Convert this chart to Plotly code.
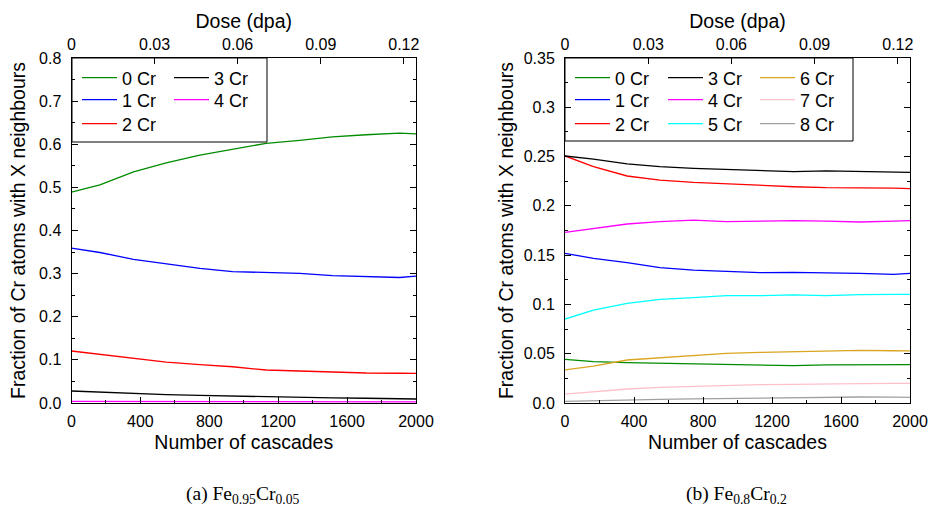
import plotly.graph_objects as go

# ---------------- data ----------------
CASCADES = [0, 165, 360, 550, 745, 935, 1130, 1325, 1515, 1710, 1905, 2000]
DOSE_MAX = 0.1244  # dpa at 2000 cascades

# (a) Fe0.95Cr0.05
A_LABELS = ["0 Cr", "1 Cr", "2 Cr", "3 Cr", "4 Cr"]
A_0CR = [0.489, 0.506, 0.536, 0.557, 0.575, 0.588, 0.602, 0.609, 0.617, 0.622, 0.626, 0.624]
A_1CR = [0.359, 0.349, 0.333, 0.322, 0.312, 0.3045, 0.302, 0.3007, 0.2953, 0.294, 0.291, 0.294]
A_2CR = [0.1206, 0.113, 0.103, 0.095, 0.089, 0.084, 0.0765, 0.0742, 0.0711, 0.0696, 0.069, 0.0688]
A_3CR = [0.0278, 0.025, 0.022, 0.0195, 0.0175, 0.0158, 0.0138, 0.0127, 0.0118, 0.011, 0.0098, 0.0093]
A_4CR = [0.004, 0.0038, 0.0035, 0.0033, 0.003, 0.003, 0.0028, 0.0027, 0.0026, 0.0025, 0.0024, 0.0024]

# (b) Fe0.8Cr0.2
B_LABELS = ["0 Cr", "1 Cr", "2 Cr", "3 Cr", "4 Cr", "5 Cr", "6 Cr", "7 Cr", "8 Cr"]
B_0CR = [0.0443, 0.0419, 0.0409, 0.0402, 0.0396, 0.0392, 0.0382, 0.0379, 0.0386, 0.0386, 0.0388, 0.0389]
B_1CR = [0.1518, 0.1468, 0.1424, 0.1373, 0.1349, 0.1339, 0.1322, 0.1325, 0.1322, 0.1315, 0.1305, 0.1315]
B_2CR = [0.2506, 0.2398, 0.2303, 0.2262, 0.2239, 0.2222, 0.2212, 0.2194, 0.2184, 0.2184, 0.218, 0.2174]
B_3CR = [0.2506, 0.2475, 0.2425, 0.2398, 0.2381, 0.2371, 0.2354, 0.2347, 0.2354, 0.2347, 0.234, 0.234]
B_4CR = [0.1731, 0.1772, 0.1816, 0.184, 0.1855, 0.184, 0.1845, 0.185, 0.1845, 0.1836, 0.1845, 0.185]
B_5CR = [0.0852, 0.0943, 0.1011, 0.1052, 0.1069, 0.1089, 0.1089, 0.1096, 0.1089, 0.1099, 0.1101, 0.1103]
B_6CR = [0.0335, 0.0375, 0.0436, 0.046, 0.0487, 0.0504, 0.0514, 0.0521, 0.0531, 0.0534, 0.053, 0.0528]
B_7CR = [0.0091, 0.0115, 0.0142, 0.0159, 0.0169, 0.0179, 0.0186, 0.0189, 0.0196, 0.0196, 0.0199, 0.0200]
B_8CR = [0.0017, 0.0025, 0.0032, 0.0037, 0.0042, 0.0047, 0.0051, 0.0054, 0.0057, 0.0061, 0.0059, 0.0058]

DOSE_TICKS = [0, 0.03, 0.06, 0.09, 0.12]
DOSE_TICKTEXT = ["0", "0.03", "0.06", "0.09", "0.12"]
B_YTICKS = [0, 0.05, 0.1, 0.15, 0.2, 0.25, 0.3, 0.35]
B_YTICKTEXT = ["0.0", "0.05", "0.1", "0.15", "0.2", "0.25", "0.3", "0.35"]

COLORS = ["#008c00", "#0000ff", "#ff0000", "#000000", "#ff00ff",
          "#00ffff", "#daa520", "#ffc0cb", "#a0a0a0"]

# ---------------- figure ----------------
W, H = 928, 506
FONT = "Liberation Sans, Arial, sans-serif"
TICK_SIZE = 16
TITLE_SIZE = 19.5
LEG_SIZE = 18

# legend layout (pixel positions of legend columns / rows)
A_COLS = [77, 169]
B_COLS = [570, 663, 755]
ROWS = [78, 100, 124]
LEG_OFFSET = 18.5  # distance from legend top to first item centre (approx.)

fig = go.Figure()
leg_positions = {}
leg_count = 0

def next_legend(px_x, px_row):
    global leg_count
    leg_count += 1
    name = "legend" if leg_count == 1 else f"legend{leg_count}"
    leg_positions[name] = (px_x, px_row)
    return name

a_series = [A_0CR, A_1CR, A_2CR, A_3CR, A_4CR]
for i, ys in enumerate(a_series):
    lg = next_legend(A_COLS[i // 3], ROWS[i % 3])
    fig.add_trace(go.Scatter(x=CASCADES, y=ys, mode="lines", name=A_LABELS[i],
                             line=dict(color=COLORS[i], width=1.3), showlegend=True,
                             xaxis="x", yaxis="y", legend=lg))

b_series = [B_0CR, B_1CR, B_2CR, B_3CR, B_4CR, B_5CR, B_6CR, B_7CR, B_8CR]
for i, ys in enumerate(b_series):
    lg = next_legend(B_COLS[i // 3], ROWS[i % 3])
    fig.add_trace(go.Scatter(x=CASCADES, y=ys, mode="lines", name=B_LABELS[i],
                             line=dict(color=COLORS[i], width=1.3), showlegend=True,
                             xaxis="x2", yaxis="y2", legend=lg))

# empty traces to bind the top dose axes
fig.add_trace(go.Scatter(x=[], y=[], xaxis="x3", yaxis="y", showlegend=False))
fig.add_trace(go.Scatter(x=[], y=[], xaxis="x4", yaxis="y2", showlegend=False))

LX = [71.5 / W, 416 / W]
RX = [565 / W, 910 / W]
YD = [1 - 403 / H, 1 - 58 / H]

tickfont = dict(family=FONT, size=TICK_SIZE, color="black")
titlefont = dict(family=FONT, size=TITLE_SIZE, color="black")

def xbottom(domain, anchor):
    return dict(domain=domain, anchor=anchor, range=[0, 2000], dtick=400, tick0=0,
                ticks="inside", ticklen=6, tickcolor="black", tickwidth=1,
                minor=dict(dtick=200, ticks="inside", ticklen=3, tickcolor="black"),
                showline=True, linecolor="black", linewidth=1, mirror=True,
                showgrid=False, zeroline=False, tickfont=tickfont, automargin=False,
                ticklabelstandoff=4,
                title=dict(text="Number of cascades", font=titlefont, standoff=6))

def xtop(domain, overlay, anchor):
    return dict(domain=domain, overlaying=overlay, anchor=anchor, side="top",
                range=[0, DOSE_MAX], tickvals=DOSE_TICKS, ticktext=DOSE_TICKTEXT,
                ticks="inside", ticklen=6, tickcolor="black", automargin=False,
                showline=False, showgrid=False, zeroline=False, tickfont=tickfont,
                ticklabelstandoff=4,
                title=dict(text="Dose (dpa)", font=titlefont, standoff=1))

def yaxis(anchor, rng, standoff, **kw):
    d = dict(domain=YD, anchor=anchor, range=rng,
             ticks="inside", ticklen=6, tickcolor="black",
             showline=True, linecolor="black", linewidth=1, mirror="ticks",
             showgrid=False, zeroline=False, tickfont=tickfont, ticklabelstandoff=6,
             automargin=False,
             title=dict(text="Fraction of Cr atoms with X neighbours", font=titlefont,
                        standoff=standoff))
    d.update(kw)
    return d

fig.update_layout(
    width=W, height=H, autosize=False, showlegend=True,
    margin=dict(l=0, r=0, t=0, b=0, autoexpand=False),
    paper_bgcolor="white", plot_bgcolor="white",
    font=dict(family=FONT, color="black"),
    xaxis=xbottom(LX, "y"),
    xaxis2=xbottom(RX, "y2"),
    xaxis3=xtop(LX, "x", "y"),
    xaxis4=xtop(RX, "x2", "y2"),
    yaxis=yaxis("x", [0, 0.8], 8, dtick=0.1, tick0=0, tickformat=".1f",
                minor=dict(dtick=0.05, ticks="inside", ticklen=3, tickcolor="black")),
    yaxis2=yaxis("x2", [0, 0.35], 4, tickvals=B_YTICKS, ticktext=B_YTICKTEXT,
                 minor=dict(dtick=0.025, ticks="inside", ticklen=3, tickcolor="black")),
)

leg_common = dict(font=dict(family=FONT, size=LEG_SIZE, color="black"),
                  bgcolor="rgba(0,0,0,0)", borderwidth=0, xanchor="left", yanchor="top",
                  itemwidth=35, orientation="v", visible=True)
for name, (px, py) in leg_positions.items():
    fig.update_layout({name: dict(x=px / W, y=1 - (py - LEG_OFFSET) / H, **leg_common)})

# legend frames
fig.add_shape(type="rect", xref="paper", yref="paper", x0=72 / W, x1=267 / W,
              y0=1 - 142 / H, y1=YD[1], line=dict(color="black", width=1), layer="above")
fig.add_shape(type="rect", xref="paper", yref="paper", x0=565 / W, x1=853 / W,
              y0=1 - 141 / H, y1=YD[1], line=dict(color="black", width=1), layer="above")

capfont = dict(family="Liberation Serif, DejaVu Serif, serif", size=19.5, color="black")
fig.add_annotation(text="(a) Fe<sub>0.95</sub>Cr<sub>0.05</sub>", xref="paper", yref="paper",
                   x=243 / W, y=1 - 495 / H, xanchor="center", yanchor="middle",
                   showarrow=False, font=capfont)
fig.add_annotation(text="(b) Fe<sub>0.8</sub>Cr<sub>0.2</sub>", xref="paper", yref="paper",
                   x=736 / W, y=1 - 495 / H, xanchor="center", yanchor="middle",
                   showarrow=False, font=capfont)

fig.write_html("out.html")
